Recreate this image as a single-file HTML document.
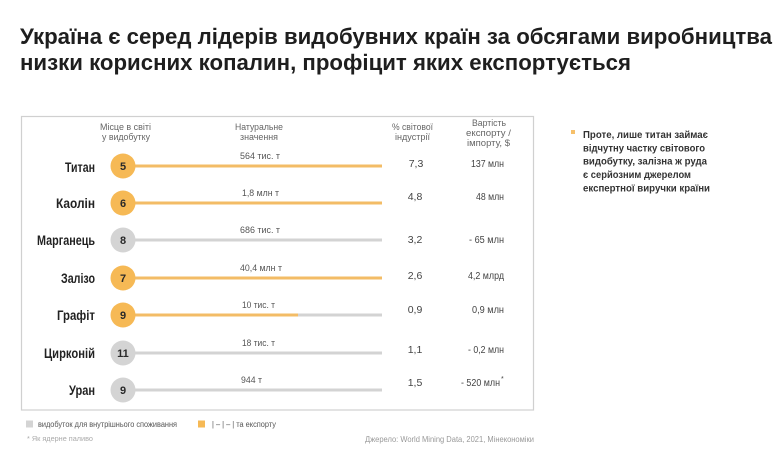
<!DOCTYPE html>
<html>
<head>
<meta charset="utf-8">
<style>
html,body{margin:0;padding:0;background:#fff;}
svg{display:block;}
text{font-family:"Liberation Sans","DejaVu Sans",sans-serif;}
</style>
</head>
<body>
<svg width="779" height="455" viewBox="0 0 779 455" xmlns="http://www.w3.org/2000/svg">
<rect x="0" y="0" width="779" height="455" fill="#fff"/>
<!-- Title -->
<text x="20" y="44" font-size="22" font-weight="bold" fill="#1e1e1e" textLength="752" lengthAdjust="spacingAndGlyphs">Україна є серед лідерів видобувних країн за обсягами виробництва</text>
<text x="20" y="70" font-size="22" font-weight="bold" fill="#1e1e1e" textLength="611" lengthAdjust="spacingAndGlyphs">низки корисних копалин, профіцит яких експортується</text>

<!-- Box -->
<rect x="21.5" y="116.5" width="512" height="293.5" fill="none" stroke="#d0d0d0" stroke-width="1.2"/>

<!-- Headers -->
<g font-size="9" fill="#666" text-anchor="middle">
<text x="125.5" y="130" textLength="51" lengthAdjust="spacingAndGlyphs">Місце в світі</text>
<text x="126" y="140" textLength="48" lengthAdjust="spacingAndGlyphs">у видобутку</text>
<text x="259" y="130" textLength="48" lengthAdjust="spacingAndGlyphs">Натуральне</text>
<text x="259" y="140" textLength="38" lengthAdjust="spacingAndGlyphs">значення</text>
<text x="412.5" y="130" textLength="41" lengthAdjust="spacingAndGlyphs">% світової</text>
<text x="412.5" y="140" textLength="35" lengthAdjust="spacingAndGlyphs">індустрії</text>
<text x="489" y="126" textLength="34" lengthAdjust="spacingAndGlyphs">Вартість</text>
<text x="488.5" y="136" textLength="45" lengthAdjust="spacingAndGlyphs">експорту /</text>
<text x="488.5" y="146" textLength="43" lengthAdjust="spacingAndGlyphs">імпорту, $</text>
</g>

<!-- Bars -->
<g stroke-width="3" stroke-linecap="butt">
<line x1="122" y1="166" x2="382" y2="166" stroke="#f3bc66"/>
<line x1="122" y1="203" x2="382" y2="203" stroke="#f3bc66"/>
<line x1="122" y1="240" x2="382" y2="240" stroke="#d3d3d3"/>
<line x1="122" y1="278" x2="382" y2="278" stroke="#f3bc66"/>
<line x1="122" y1="315" x2="382" y2="315" stroke="#d3d3d3"/>
<line x1="122" y1="315" x2="298" y2="315" stroke="#f3bc66"/>
<line x1="122" y1="353" x2="382" y2="353" stroke="#d3d3d3"/>
<line x1="122" y1="390" x2="382" y2="390" stroke="#d3d3d3"/>
</g>

<!-- Circles -->
<g>
<circle cx="123" cy="166" r="12.5" fill="#f6b955"/>
<circle cx="123" cy="203" r="12.5" fill="#f6b955"/>
<circle cx="123" cy="240" r="12.5" fill="#d4d4d4"/>
<circle cx="123" cy="278" r="12.5" fill="#f6b955"/>
<circle cx="123" cy="315" r="12.5" fill="#f6b955"/>
<circle cx="123" cy="353" r="12.5" fill="#d4d4d4"/>
<circle cx="123" cy="390" r="12.5" fill="#d4d4d4"/>
</g>
<g font-size="11" font-weight="bold" fill="#2a2a2a" text-anchor="middle">
<text x="123" y="170">5</text>
<text x="123" y="207">6</text>
<text x="123" y="244">8</text>
<text x="123" y="282">7</text>
<text x="123" y="319">9</text>
<text x="123" y="357">11</text>
<text x="123" y="394">9</text>
</g>

<!-- Row labels -->
<g font-size="13.5" font-weight="bold" fill="#222" text-anchor="end">
<text x="95" y="172" textLength="30" lengthAdjust="spacingAndGlyphs">Титан</text>
<text x="95" y="208" textLength="39" lengthAdjust="spacingAndGlyphs">Каолін</text>
<text x="95" y="245" textLength="58" lengthAdjust="spacingAndGlyphs">Марганець</text>
<text x="95" y="283" textLength="34" lengthAdjust="spacingAndGlyphs">Залізо</text>
<text x="95" y="320" textLength="38" lengthAdjust="spacingAndGlyphs">Графіт</text>
<text x="95" y="358" textLength="51" lengthAdjust="spacingAndGlyphs">Цирконій</text>
<text x="95" y="395" textLength="26" lengthAdjust="spacingAndGlyphs">Уран</text>
</g>

<!-- Value labels -->
<g font-size="9.5" fill="#555" text-anchor="middle">
<text x="260" y="159" textLength="40" lengthAdjust="spacingAndGlyphs">564 тис. т</text>
<text x="260.5" y="196" textLength="37" lengthAdjust="spacingAndGlyphs">1,8 млн т</text>
<text x="260" y="233" textLength="40" lengthAdjust="spacingAndGlyphs">686 тис. т</text>
<text x="261" y="271" textLength="42" lengthAdjust="spacingAndGlyphs">40,4 млн т</text>
<text x="258.5" y="308" textLength="33" lengthAdjust="spacingAndGlyphs">10 тис. т</text>
<text x="258.5" y="346" textLength="33" lengthAdjust="spacingAndGlyphs">18 тис. т</text>
<text x="251.5" y="383" textLength="21" lengthAdjust="spacingAndGlyphs">944 т</text>
</g>

<!-- % column -->
<g font-size="10.5" fill="#444" text-anchor="middle">
<text x="416" y="167">7,3</text>
<text x="415" y="200">4,8</text>
<text x="415" y="243">3,2</text>
<text x="415" y="279">2,6</text>
<text x="415" y="313">0,9</text>
<text x="415" y="353">1,1</text>
<text x="415" y="386">1,5</text>
</g>

<!-- Export column -->
<g font-size="10" fill="#444" text-anchor="end">
<text x="504" y="167" textLength="33" lengthAdjust="spacingAndGlyphs">137 млн</text>
<text x="504" y="200" textLength="28" lengthAdjust="spacingAndGlyphs">48 млн</text>
<text x="504" y="243" textLength="35" lengthAdjust="spacingAndGlyphs">- 65 млн</text>
<text x="504" y="279" textLength="36" lengthAdjust="spacingAndGlyphs">4,2 млрд</text>
<text x="504" y="313" textLength="32" lengthAdjust="spacingAndGlyphs">0,9 млн</text>
<text x="504" y="353" textLength="36" lengthAdjust="spacingAndGlyphs">- 0,2 млн</text>
<text x="500" y="386" textLength="39" lengthAdjust="spacingAndGlyphs">- 520 млн</text>
<text x="501" y="381" font-size="7" text-anchor="start">*</text>
</g>

<!-- Right note -->
<rect x="571" y="130" width="4" height="4" fill="#f6c06a"/>
<g font-size="10.5" font-weight="bold" fill="#333">
<text x="583" y="138" textLength="125" lengthAdjust="spacingAndGlyphs">Проте, лише титан займає</text>
<text x="583" y="151.3" textLength="122" lengthAdjust="spacingAndGlyphs">відчутну частку світового</text>
<text x="583" y="164.6" textLength="124" lengthAdjust="spacingAndGlyphs">видобутку, залізна ж руда</text>
<text x="583" y="178" textLength="108" lengthAdjust="spacingAndGlyphs">є серйозним джерелом</text>
<text x="583" y="191.3" textLength="127" lengthAdjust="spacingAndGlyphs">експертної виручки країни</text>
</g>

<!-- Legend -->
<rect x="26" y="420.5" width="7" height="7" fill="#d4d4d4"/>
<text x="38" y="427" font-size="8" fill="#555" textLength="139" lengthAdjust="spacingAndGlyphs">видобуток для внутрішнього споживання</text>
<rect x="198" y="420.5" width="7" height="7" fill="#f6b955"/>
<text x="212" y="427" font-size="8" fill="#555" textLength="64" lengthAdjust="spacingAndGlyphs">| – | – | та експорту</text>
<text x="27" y="441" font-size="7.5" fill="#aaa" textLength="66" lengthAdjust="spacingAndGlyphs">* Як ядерне паливо</text>
<text x="365" y="442" font-size="8" fill="#999" textLength="169" lengthAdjust="spacingAndGlyphs">Джерело: World Mining Data, 2021, Мінекономіки</text>
</svg>
</body>
</html>
